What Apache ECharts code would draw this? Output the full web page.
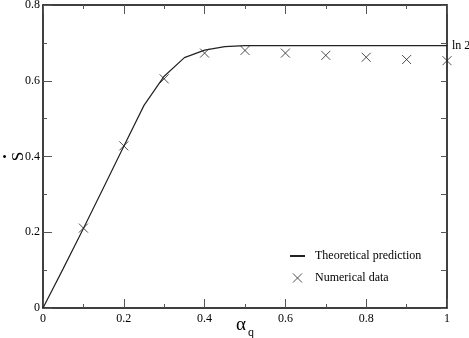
<!DOCTYPE html>
<html>
<head>
<meta charset="utf-8">
<script src="https://cdn.jsdelivr.net/npm/echarts@6/dist/echarts.min.js"></script>
<style>
  html, body { margin: 0; padding: 0; background: #fff; }
  #chart { width: 469px; height: 338px; }
</style>
</head>
<body>
<div id="chart"></div>
<script>
// theory curve (alpha_q, S dot)
var theoryX = [0, 0.05, 0.1, 0.15, 0.2, 0.25, 0.3, 0.35, 0.4, 0.45, 0.5, 0.6, 0.7, 0.8, 0.9, 1.0]
var theoryY = [0, 0.104, 0.21, 0.318, 0.427, 0.535, 0.612, 0.661, 0.681, 0.690, 0.693, 0.693, 0.693, 0.693, 0.693, 0.693]
// numerical data
var numX = [0.1, 0.2, 0.3, 0.4, 0.5, 0.6, 0.7, 0.8, 0.9, 1.0]
var numY = [0.211, 0.428, 0.605, 0.673, 0.680, 0.673, 0.667, 0.662, 0.656, 0.653]
var ln2 = Math.LN2
var rightTicks = [0, 0.1, 0.2, 0.3, 0.4, 0.5, 0.6, 0.7, ln2, 0.8]

var font = 'Liberation Serif'
var crossPath = 'path://M0,0L10,10M10,0L0,10'

var myChart = echarts.init(document.getElementById('chart'))
var frameLine = { show: true, onZero: false, lineStyle: { color: '#000', width: 1.5 } }
var noLine = { show: false, onZero: false }
var tickStyle = { color: '#555', width: 1 }
var fmt = function (v) { return String(Math.round(v * 10) / 10) }

// major axis (0.2 step, long ticks) + overlapping minor axis (0.1 step, short ticks)
function xPair(pos, showLabel) {
  var major = {
    type: 'value', min: 0, max: 1, interval: 0.2, position: pos,
    axisLine: frameLine,
    axisTick: { inside: true, length: 9, lineStyle: tickStyle },
    splitLine: { show: false },
    axisLabel: { show: showLabel, fontFamily: font, fontSize: 12, color: '#000', margin: 5, formatter: fmt }
  }
  var minor = {
    type: 'value', min: 0, max: 1, interval: 0.1, position: pos,
    axisLine: noLine,
    axisTick: { inside: true, length: 4, lineStyle: tickStyle },
    splitLine: { show: false },
    axisLabel: { show: false }
  }
  return [major, minor]
}

var xAxes = xPair('bottom', true).concat(xPair('top', false))
xAxes[0].name = '{a|α}{q|q}'
xAxes[0].nameLocation = 'middle'
xAxes[0].nameGap = 4
xAxes[0].nameMoveOverlap = false
xAxes[0].nameTextStyle = {
  rich: {
    a: { fontFamily: font, fontSize: 19, color: '#000' },
    q: { fontFamily: font, fontSize: 12, color: '#000', padding: [15, 0, 0, 2] }
  }
}

var option = {
  animation: false,
  grid: { left: 43, right: 22, top: 5, bottom: 30, outerBoundsMode: 'none' },
  legend: {
    orient: 'vertical',
    left: 284,
    top: 245,
    itemGap: 10,
    itemWidth: 15,
    itemHeight: 9,
    textStyle: { fontFamily: font, fontSize: 12, color: '#000', padding: [0, 0, 0, 5] },
    data: [
      { name: 'Theoretical prediction', itemStyle: { color: 'rgba(0,0,0,0)', borderColor: 'rgba(0,0,0,0)', borderWidth: 0 } },
      { name: 'Numerical data', itemStyle: { color: 'rgba(0,0,0,0)', borderColor: '#222', borderWidth: 1 } }
    ]
  },
  xAxis: xAxes,
  yAxis: [
    {
      type: 'value', min: 0, max: 0.8, interval: 0.2, position: 'left',
      axisLine: frameLine,
      axisTick: { inside: true, length: 9, lineStyle: tickStyle },
      splitLine: { show: false },
      axisLabel: { fontFamily: font, fontSize: 12, color: '#000', margin: 3, formatter: fmt },
      // S with its dot set apart, as in the original
      name: '{d|•}\n{s|S}',
      nameLocation: 'middle',
      nameRotate: 90,
      nameGap: 16,
      nameMoveOverlap: false,
      nameTextStyle: {
        rich: {
          d: { fontFamily: font, fontSize: 13, lineHeight: 10, color: '#000' },
          s: { fontFamily: font, fontSize: 17, lineHeight: 16, color: '#000' }
        }
      }
    },
    {
      type: 'value', min: 0, max: 0.8, interval: 0.1, position: 'left',
      axisLine: noLine,
      axisTick: { inside: true, length: 4, lineStyle: tickStyle },
      splitLine: { show: false },
      axisLabel: { show: false }
    },
    {
      type: 'value', min: 0, max: 0.8, position: 'right',
      axisLine: frameLine,
      axisTick: { inside: true, length: 6, lineStyle: tickStyle, customValues: rightTicks },
      splitLine: { show: false },
      axisLabel: {
        fontFamily: font, fontSize: 12, color: '#000', margin: 5,
        customValues: [ln2],
        formatter: function () { return 'ln 2' }
      }
    }
  ],
  series: [
    {
      name: 'Theoretical prediction',
      type: 'line',
      data: theoryX.map(function (x, i) { return [x, theoryY[i]] }),
      symbol: 'none',
      lineStyle: { color: '#222', width: 1.2 },
      itemStyle: { color: '#222' }
    },
    {
      name: 'Numerical data',
      type: 'scatter',
      data: numX.map(function (x, i) { return [x, numY[i]] }),
      symbol: crossPath,
      symbolSize: 9,
      itemStyle: { color: 'rgba(0,0,0,0)', borderColor: '#222', borderWidth: 1 }
    }
  ]
}

option && myChart.setOption(option)
</script>
</body>
</html>
